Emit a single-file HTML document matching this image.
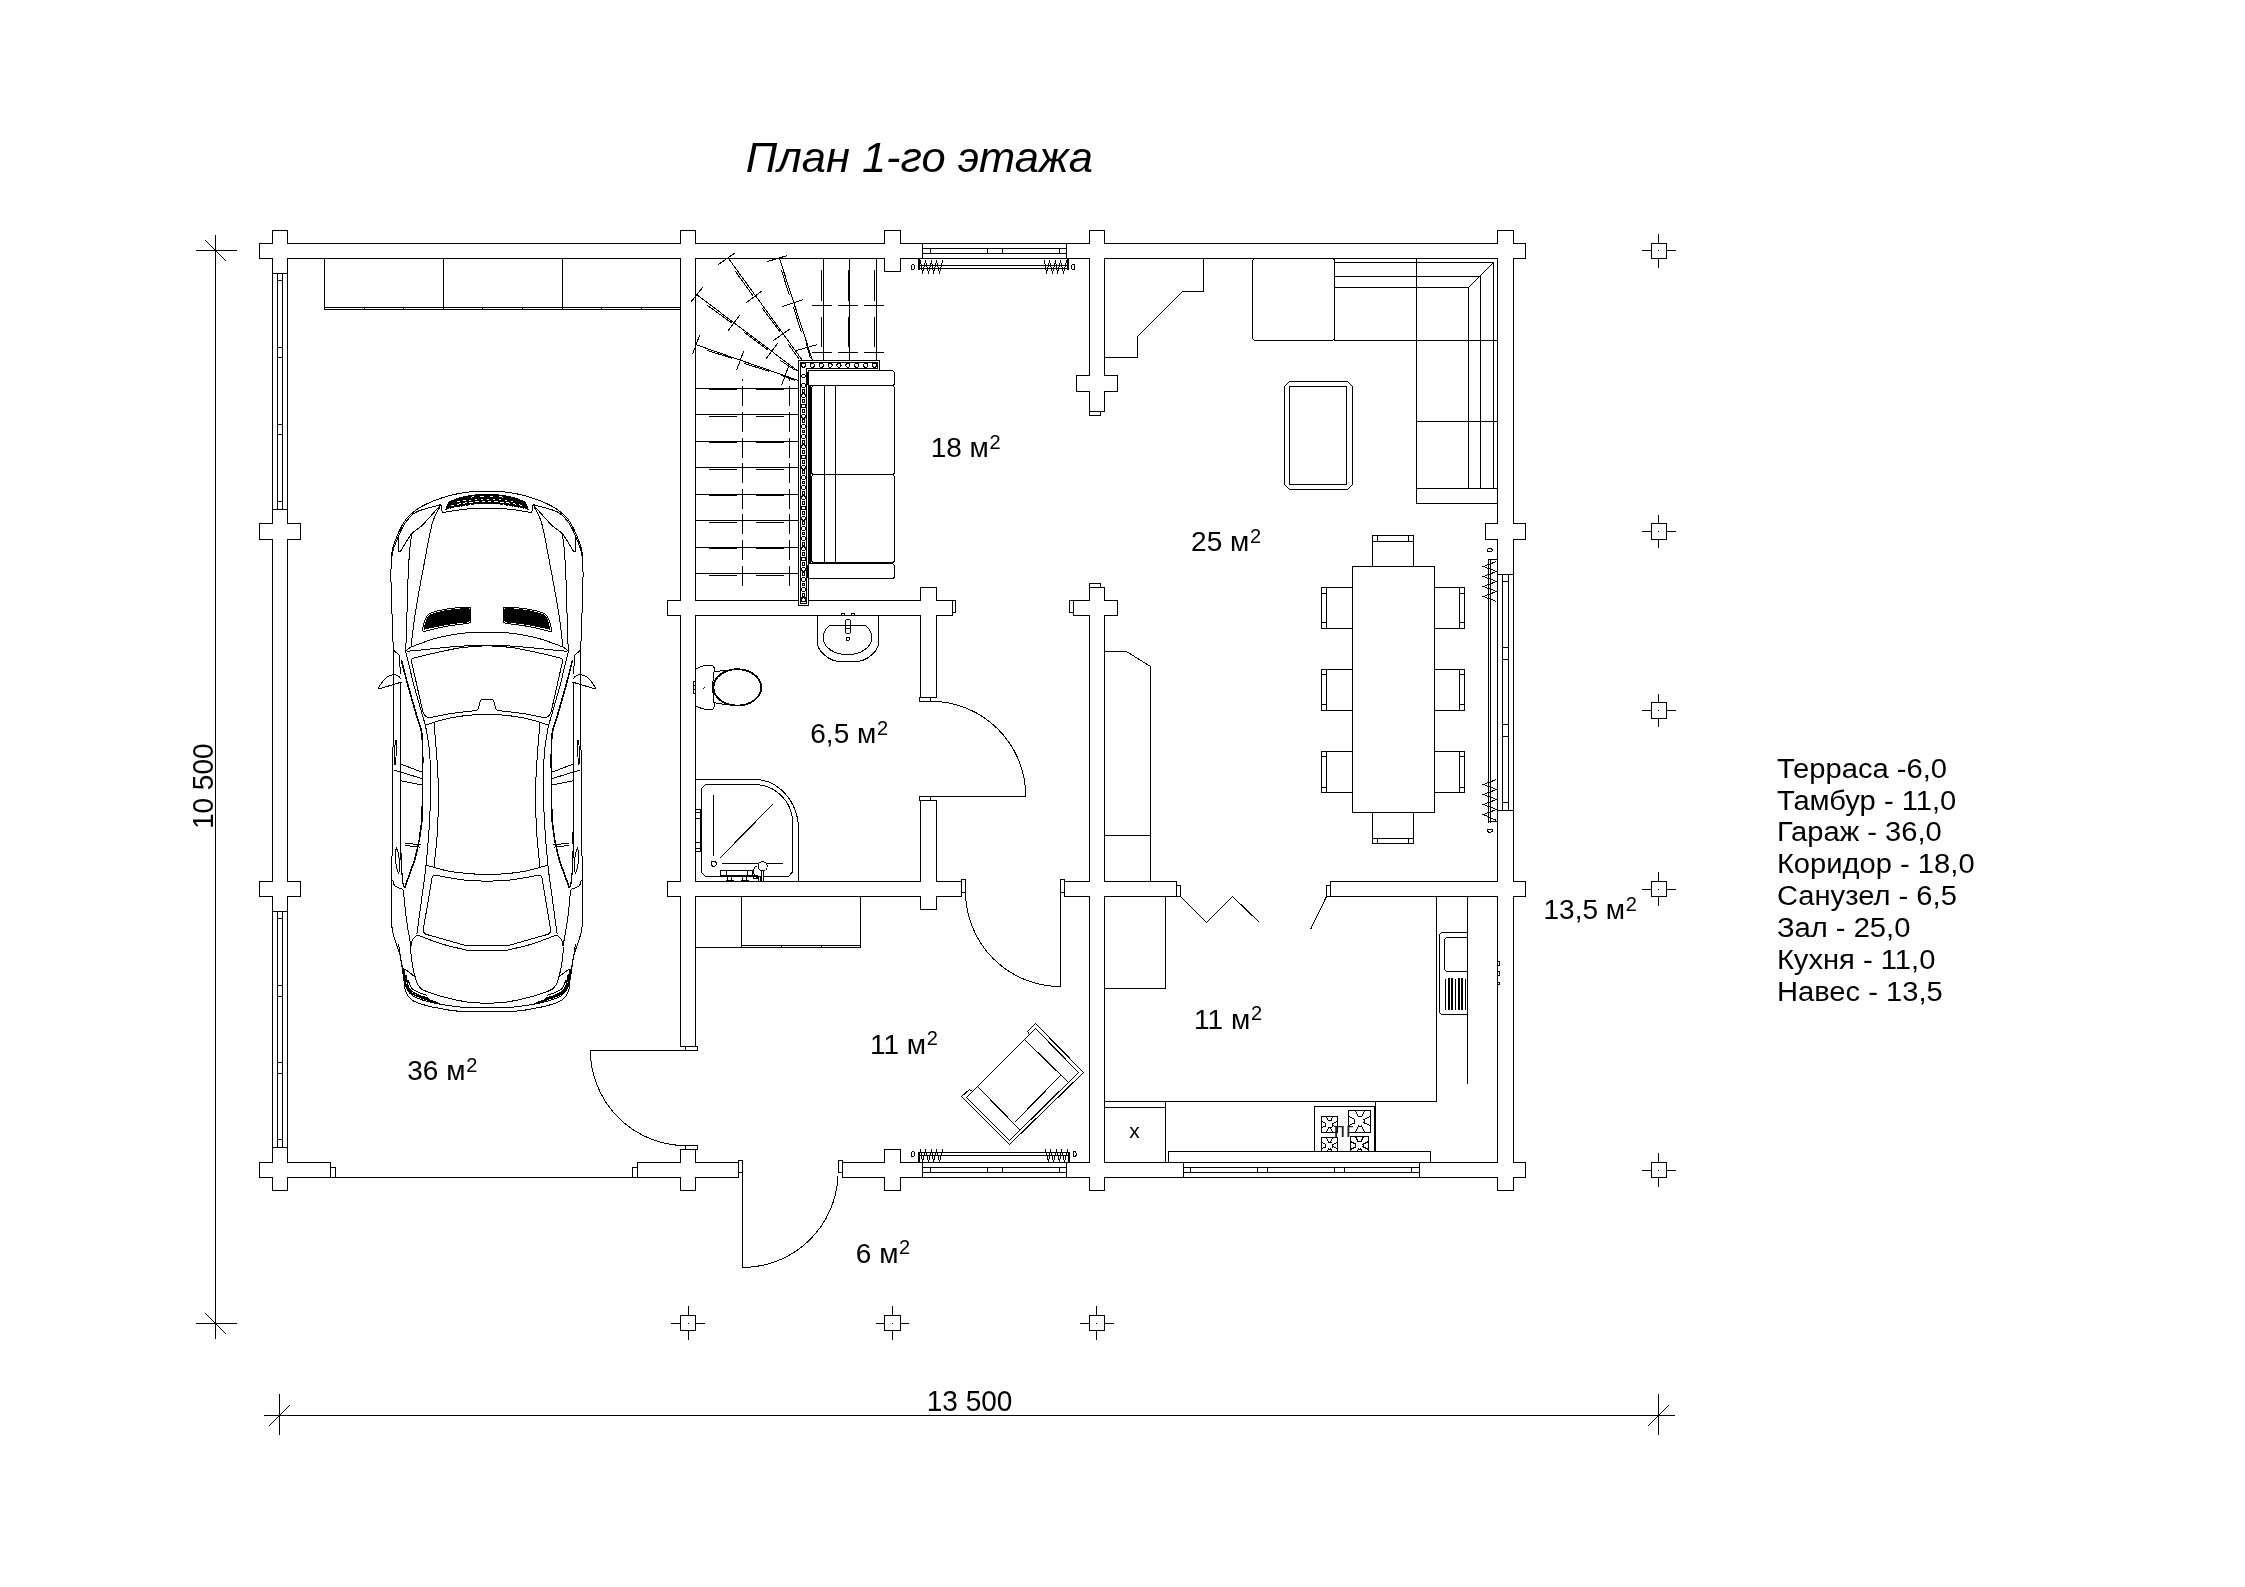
<!DOCTYPE html>
<html><head><meta charset="utf-8"><title>План 1-го этажа</title>
<style>html,body{margin:0;padding:0;background:#fff}svg{display:block;will-change:transform}text{font-family:"Liberation Sans",sans-serif}</style>
</head><body>
<svg width="2245" height="1587" viewBox="0 0 2245 1587" fill="none" stroke="#000" stroke-width="1.0" stroke-linecap="butt" stroke-linejoin="miter" shape-rendering="crispEdges">
<rect x="0" y="0" width="2245" height="1587" fill="#fff" stroke="none"/>
<rect x="259.5" y="243.5" width="1266.0" height="15.0"/>
<rect x="272.5" y="230.5" width="15.0" height="43.0"/>
<rect x="884.5" y="230.5" width="16.0" height="41.0"/>
<rect x="1497.5" y="230.5" width="16.0" height="344.0"/>
<rect x="272.5" y="509.5" width="15.0" height="402.0"/>
<rect x="259.5" y="523.5" width="41.0" height="16.0"/>
<rect x="259.5" y="881.5" width="41.0" height="15.0"/>
<rect x="272.5" y="1147.5" width="15.0" height="43.0"/>
<rect x="259.5" y="1162.5" width="71.0" height="15.0"/>
<rect x="680.5" y="230.5" width="15.0" height="816.0"/>
<rect x="667.5" y="600.5" width="285.0" height="15.0"/>
<rect x="667.5" y="881.5" width="294.0" height="15.0"/>
<rect x="680.5" y="1149.5" width="15.0" height="41.0"/>
<rect x="637.5" y="1162.5" width="101.0" height="15.0"/>
<rect x="920.5" y="587.5" width="16.0" height="110.0"/>
<rect x="920.5" y="800.5" width="16.0" height="109.0"/>
<rect x="1089.5" y="230.5" width="15.0" height="181.0"/>
<rect x="1076.5" y="375.5" width="41.0" height="16.0"/>
<rect x="1089.5" y="587.5" width="15.0" height="603.0"/>
<rect x="1073.5" y="600.5" width="44.0" height="15.0"/>
<rect x="1064.5" y="881.5" width="112.0" height="15.0"/>
<rect x="1485.5" y="523.5" width="40.0" height="16.0"/>
<rect x="1497.5" y="810.5" width="16.0" height="380.0"/>
<rect x="1330.5" y="881.5" width="195.0" height="15.0"/>
<rect x="842.5" y="1162.5" width="683.0" height="15.0"/>
<rect x="884.5" y="1149.5" width="16.0" height="41.0"/>
<rect x="260.00" y="244.00" width="1265.00" height="14.00" fill="#fff" stroke="none"/>
<rect x="273.00" y="231.00" width="14.00" height="42.00" fill="#fff" stroke="none"/>
<rect x="885.00" y="231.00" width="15.00" height="40.00" fill="#fff" stroke="none"/>
<rect x="1498.00" y="231.00" width="15.00" height="343.00" fill="#fff" stroke="none"/>
<rect x="273.00" y="510.00" width="14.00" height="401.00" fill="#fff" stroke="none"/>
<rect x="260.00" y="524.00" width="40.00" height="15.00" fill="#fff" stroke="none"/>
<rect x="260.00" y="882.00" width="40.00" height="14.00" fill="#fff" stroke="none"/>
<rect x="273.00" y="1148.00" width="14.00" height="42.00" fill="#fff" stroke="none"/>
<rect x="260.00" y="1163.00" width="70.00" height="14.00" fill="#fff" stroke="none"/>
<rect x="681.00" y="231.00" width="14.00" height="815.00" fill="#fff" stroke="none"/>
<rect x="668.00" y="601.00" width="284.00" height="14.00" fill="#fff" stroke="none"/>
<rect x="668.00" y="882.00" width="293.00" height="14.00" fill="#fff" stroke="none"/>
<rect x="681.00" y="1150.00" width="14.00" height="40.00" fill="#fff" stroke="none"/>
<rect x="638.00" y="1163.00" width="100.00" height="14.00" fill="#fff" stroke="none"/>
<rect x="921.00" y="588.00" width="15.00" height="109.00" fill="#fff" stroke="none"/>
<rect x="921.00" y="801.00" width="15.00" height="108.00" fill="#fff" stroke="none"/>
<rect x="1090.00" y="231.00" width="14.00" height="180.00" fill="#fff" stroke="none"/>
<rect x="1077.00" y="376.00" width="40.00" height="15.00" fill="#fff" stroke="none"/>
<rect x="1090.00" y="588.00" width="14.00" height="602.00" fill="#fff" stroke="none"/>
<rect x="1074.00" y="601.00" width="43.00" height="14.00" fill="#fff" stroke="none"/>
<rect x="1065.00" y="882.00" width="111.00" height="14.00" fill="#fff" stroke="none"/>
<rect x="1486.00" y="524.00" width="39.00" height="15.00" fill="#fff" stroke="none"/>
<rect x="1498.00" y="811.00" width="15.00" height="379.00" fill="#fff" stroke="none"/>
<rect x="1331.00" y="882.00" width="194.00" height="14.00" fill="#fff" stroke="none"/>
<rect x="843.00" y="1163.00" width="682.00" height="14.00" fill="#fff" stroke="none"/>
<rect x="885.00" y="1150.00" width="15.00" height="40.00" fill="#fff" stroke="none"/>
<rect x="922.5" y="243.5" width="144.0" height="15.0" fill="#fff"/>
<line x1="922.5" y1="248.5" x2="1066.5" y2="248.5"/>
<line x1="922.5" y1="253.5" x2="1066.5" y2="253.5"/>
<line x1="930.5" y1="248.5" x2="930.5" y2="253.5"/>
<line x1="987.5" y1="248.5" x2="987.5" y2="253.5"/>
<line x1="1002.5" y1="248.5" x2="1002.5" y2="253.5"/>
<line x1="1059.5" y1="248.5" x2="1059.5" y2="253.5"/>
<rect x="922.5" y="1162.5" width="144.0" height="15.0" fill="#fff"/>
<line x1="922.5" y1="1167.5" x2="1066.5" y2="1167.5"/>
<line x1="922.5" y1="1172.5" x2="1066.5" y2="1172.5"/>
<line x1="930.5" y1="1167.5" x2="930.5" y2="1172.5"/>
<line x1="987.5" y1="1167.5" x2="987.5" y2="1172.5"/>
<line x1="1002.5" y1="1167.5" x2="1002.5" y2="1172.5"/>
<line x1="1059.5" y1="1167.5" x2="1059.5" y2="1172.5"/>
<rect x="1183.5" y="1162.5" width="236.0" height="15.0" fill="#fff"/>
<line x1="1183.5" y1="1167.5" x2="1419.5" y2="1167.5"/>
<line x1="1183.5" y1="1172.5" x2="1419.5" y2="1172.5"/>
<line x1="1190.5" y1="1167.5" x2="1190.5" y2="1172.5"/>
<line x1="1257.5" y1="1167.5" x2="1257.5" y2="1172.5"/>
<line x1="1267.5" y1="1167.5" x2="1267.5" y2="1172.5"/>
<line x1="1334.5" y1="1167.5" x2="1334.5" y2="1172.5"/>
<line x1="1344.5" y1="1167.5" x2="1344.5" y2="1172.5"/>
<line x1="1411.5" y1="1167.5" x2="1411.5" y2="1172.5"/>
<rect x="272.5" y="273.5" width="15.0" height="236.0" fill="#fff"/>
<line x1="277.5" y1="273.5" x2="277.5" y2="509.5"/>
<line x1="282.5" y1="273.5" x2="282.5" y2="509.5"/>
<line x1="277.5" y1="280.5" x2="282.5" y2="280.5"/>
<line x1="277.5" y1="347.5" x2="282.5" y2="347.5"/>
<line x1="277.5" y1="357.5" x2="282.5" y2="357.5"/>
<line x1="277.5" y1="424.5" x2="282.5" y2="424.5"/>
<line x1="277.5" y1="434.5" x2="282.5" y2="434.5"/>
<line x1="277.5" y1="501.5" x2="282.5" y2="501.5"/>
<rect x="272.5" y="911.5" width="15.0" height="236.0" fill="#fff"/>
<line x1="277.5" y1="911.5" x2="277.5" y2="1147.5"/>
<line x1="282.5" y1="911.5" x2="282.5" y2="1147.5"/>
<line x1="277.5" y1="918.5" x2="282.5" y2="918.5"/>
<line x1="277.5" y1="985.5" x2="282.5" y2="985.5"/>
<line x1="277.5" y1="996.5" x2="282.5" y2="996.5"/>
<line x1="277.5" y1="1062.5" x2="282.5" y2="1062.5"/>
<line x1="277.5" y1="1073.5" x2="282.5" y2="1073.5"/>
<line x1="277.5" y1="1139.5" x2="282.5" y2="1139.5"/>
<rect x="1497.5" y="574.5" width="16.0" height="236.0" fill="#fff"/>
<line x1="1502.5" y1="574.5" x2="1502.5" y2="810.5"/>
<line x1="1508.5" y1="574.5" x2="1508.5" y2="810.5"/>
<line x1="1502.5" y1="581.5" x2="1508.5" y2="581.5"/>
<line x1="1502.5" y1="647.5" x2="1508.5" y2="647.5"/>
<line x1="1502.5" y1="659.5" x2="1508.5" y2="659.5"/>
<line x1="1502.5" y1="724.5" x2="1508.5" y2="724.5"/>
<line x1="1502.5" y1="736.5" x2="1508.5" y2="736.5"/>
<line x1="1502.5" y1="802.5" x2="1508.5" y2="802.5"/>
<rect x="952.5" y="600.5" width="3.0" height="12.0"/>
<rect x="919.5" y="697.5" width="11.0" height="4.0"/>
<rect x="919.5" y="796.5" width="11.0" height="4.0"/>
<rect x="961.5" y="879.5" width="4.0" height="13.0"/>
<rect x="1060.5" y="879.5" width="4.0" height="13.0"/>
<rect x="1176.5" y="885.5" width="4.0" height="11.0"/>
<rect x="1326.5" y="885.5" width="4.0" height="11.0"/>
<rect x="1069.5" y="600.5" width="4.0" height="12.0"/>
<rect x="1089.5" y="583.5" width="11.0" height="4.0"/>
<rect x="1089.5" y="411.5" width="11.0" height="4.0"/>
<rect x="685.5" y="1046.5" width="12.0" height="4.0"/>
<rect x="685.5" y="1145.5" width="12.0" height="4.0"/>
<rect x="330.5" y="1167.5" width="5.0" height="10.0"/>
<rect x="632.5" y="1167.5" width="5.0" height="10.0"/>
<rect x="738.5" y="1160.5" width="4.0" height="12.0"/>
<rect x="838.5" y="1160.5" width="4.0" height="12.0"/>
<line x1="335.5" y1="1177.5" x2="632.5" y2="1177.5"/>
<path d="M930.8,796.6 L1025.8,796.6 A95,95 0 0 0 930.8,701.3"/>
<path d="M1060.5,892 L1060.5,986.5 A95,95 0 0 1 965.5,892"/>
<path d="M685.4,1050.3 L590.4,1050.3 A95.5,95.5 0 0 0 685.4,1145.6"/>
<path d="M742.4,1172 L742.4,1267.5 A95.6,95.6 0 0 0 838,1176"/>
<path d="M1180.5,896.5 L1206.5,922.5 L1232.5,896.5 L1259.5,922.5"/>
<line x1="1326.5" y1="896.5" x2="1310.5" y2="929.5"/>
<rect x="1651.5" y="243.5" width="15" height="15"/>
<path d="M1642,250.5 H1651 M1667,250.5 H1676 M1658.5,234 V243 M1658.5,259 V268"/>
<rect x="1658" y="250" width="1" height="1" fill="#000" stroke="none"/>
<rect x="1651.5" y="523.5" width="15" height="16"/>
<path d="M1642,531.5 H1651 M1667,531.5 H1676 M1658.5,515 V523 M1658.5,540 V548"/>
<rect x="1658" y="531" width="1" height="1" fill="#000" stroke="none"/>
<rect x="1651.5" y="702.5" width="15" height="16"/>
<path d="M1642,710.5 H1651 M1667,710.5 H1676 M1658.5,694 V702 M1658.5,719 V727"/>
<rect x="1658" y="710" width="1" height="1" fill="#000" stroke="none"/>
<rect x="1651.5" y="881.5" width="15" height="15"/>
<path d="M1642,889.5 H1651 M1667,889.5 H1676 M1658.5,872 V881 M1658.5,897 V906"/>
<rect x="1658" y="889" width="1" height="1" fill="#000" stroke="none"/>
<rect x="1651.5" y="1162.5" width="15" height="15"/>
<path d="M1642,1170.5 H1651 M1667,1170.5 H1676 M1658.5,1153 V1162 M1658.5,1178 V1187"/>
<rect x="1658" y="1170" width="1" height="1" fill="#000" stroke="none"/>
<rect x="680.5" y="1315.5" width="15" height="15"/>
<path d="M671,1323.5 H680 M696,1323.5 H705 M688.5,1306 V1315 M688.5,1331 V1340"/>
<rect x="688" y="1323" width="1" height="1" fill="#000" stroke="none"/>
<rect x="884.5" y="1315.5" width="16" height="15"/>
<path d="M876,1323.5 H884 M901,1323.5 H909 M892.5,1306 V1315 M892.5,1331 V1340"/>
<rect x="892" y="1323" width="1" height="1" fill="#000" stroke="none"/>
<rect x="1089.5" y="1315.5" width="15" height="15"/>
<path d="M1080,1323.5 H1089 M1105,1323.5 H1114 M1096.5,1306 V1315 M1096.5,1331 V1340"/>
<rect x="1096" y="1323" width="1" height="1" fill="#000" stroke="none"/>
<path d="M215.5,235 V1339 M196,250.5 H237 M196,1323.5 H237 M264,1415.5 H1675 M279.5,1394 V1435 M1658.5,1394 V1435"/>
<path d="M205,240 L226,261 M205,1313 L226,1334 M269,1426 L290,1405 M1648,1426 L1669,1405"/>
<text x="926.8" y="1410.8" font-size="29.6" text-anchor="start" textLength="85.6" lengthAdjust="spacingAndGlyphs" stroke="none" fill="#000">13 500</text>
<text transform="translate(212.6,829.1) rotate(-90)" font-size="29.6" stroke="none" fill="#000" textLength="85.64" lengthAdjust="spacingAndGlyphs">10 500</text>
<text x="745.8" y="171.5" font-size="43" font-style="italic" stroke="none" fill="#000" textLength="347.1" lengthAdjust="spacingAndGlyphs">План 1-го этажа</text>
<text x="1776.9" y="777.6" font-size="28.4" text-anchor="start" textLength="170.1" lengthAdjust="spacingAndGlyphs" stroke="none" fill="#000">Терраса -6,0</text>
<text x="1776.9" y="809.5" font-size="28.4" text-anchor="start" textLength="179.4" lengthAdjust="spacingAndGlyphs" stroke="none" fill="#000">Тамбур - 11,0</text>
<text x="1776.9" y="841.4" font-size="28.4" text-anchor="start" textLength="164.9" lengthAdjust="spacingAndGlyphs" stroke="none" fill="#000">Гараж - 36,0</text>
<text x="1776.9" y="873.3" font-size="28.4" text-anchor="start" textLength="197.7" lengthAdjust="spacingAndGlyphs" stroke="none" fill="#000">Коридор - 18,0</text>
<text x="1776.9" y="905.2" font-size="28.4" text-anchor="start" textLength="180.0" lengthAdjust="spacingAndGlyphs" stroke="none" fill="#000">Санузел - 6,5</text>
<text x="1776.9" y="937.1" font-size="28.4" text-anchor="start" textLength="133.5" lengthAdjust="spacingAndGlyphs" stroke="none" fill="#000">Зал - 25,0</text>
<text x="1776.9" y="969.0" font-size="28.4" text-anchor="start" textLength="158.5" lengthAdjust="spacingAndGlyphs" stroke="none" fill="#000">Кухня - 11,0</text>
<text x="1776.9" y="1000.9" font-size="28.4" text-anchor="start" textLength="165.8" lengthAdjust="spacingAndGlyphs" stroke="none" fill="#000">Навес - 13,5</text>
<text x="930.7" y="457.0" font-size="28" stroke="none" fill="#000">18 м<tspan font-size="20" dy="-8.3" dx="0.7">2</tspan></text>
<text x="1191.1" y="551.1" font-size="28" stroke="none" fill="#000">25 м<tspan font-size="20" dy="-8.3" dx="0.7">2</tspan></text>
<text x="810.3" y="743.1" font-size="28" stroke="none" fill="#000">6,5 м<tspan font-size="20" dy="-8.3" dx="0.7">2</tspan></text>
<text x="407.3" y="1079.8" font-size="28" stroke="none" fill="#000">36 м<tspan font-size="20" dy="-8.3" dx="0.7">2</tspan></text>
<text x="870.0" y="1053.6" font-size="28" stroke="none" fill="#000">11 м<tspan font-size="20" dy="-8.3" dx="0.7">2</tspan></text>
<text x="1194.1" y="1028.5" font-size="28" stroke="none" fill="#000">11 м<tspan font-size="20" dy="-8.3" dx="0.7">2</tspan></text>
<text x="855.8" y="1262.7" font-size="28" stroke="none" fill="#000">6 м<tspan font-size="20" dy="-8.3" dx="0.7">2</tspan></text>
<text x="1543.5" y="918.9" font-size="28" stroke="none" fill="#000">13,5 м<tspan font-size="20" dy="-8.3" dx="0.7">2</tspan></text>
<rect x="324.5" y="258.5" width="356.0" height="51.0"/>
<line x1="324.5" y1="307.5" x2="680.5" y2="307.5"/>
<line x1="443.5" y1="258.5" x2="443.5" y2="309.5"/>
<line x1="562.5" y1="258.5" x2="562.5" y2="309.5"/>
<line x1="364.5" y1="307.5" x2="364.5" y2="309.5"/>
<line x1="403.5" y1="307.5" x2="403.5" y2="309.5"/>
<line x1="482.5" y1="307.5" x2="482.5" y2="309.5"/>
<line x1="522.5" y1="307.5" x2="522.5" y2="309.5"/>
<line x1="601.5" y1="307.5" x2="601.5" y2="309.5"/>
<line x1="641.5" y1="307.5" x2="641.5" y2="309.5"/>
<line x1="741.5" y1="896.5" x2="741.5" y2="947.5"/>
<line x1="860.5" y1="896.5" x2="860.5" y2="947.5"/>
<line x1="695.5" y1="947.5" x2="860.5" y2="947.5"/>
<line x1="741.5" y1="945.5" x2="860.5" y2="945.5"/>
<line x1="781.5" y1="945.5" x2="781.5" y2="947.5"/>
<line x1="821.5" y1="945.5" x2="821.5" y2="947.5"/>
<line x1="695.5" y1="388.5" x2="798.5" y2="388.5"/>
<line x1="708.5" y1="389.5" x2="736.5" y2="389.5"/>
<line x1="755.5" y1="389.5" x2="783.5" y2="389.5"/>
<line x1="695.5" y1="414.5" x2="798.5" y2="414.5"/>
<line x1="708.5" y1="416.5" x2="736.5" y2="416.5"/>
<line x1="755.5" y1="416.5" x2="783.5" y2="416.5"/>
<line x1="695.5" y1="441.5" x2="798.5" y2="441.5"/>
<line x1="708.5" y1="442.5" x2="736.5" y2="442.5"/>
<line x1="755.5" y1="442.5" x2="783.5" y2="442.5"/>
<line x1="695.5" y1="467.5" x2="798.5" y2="467.5"/>
<line x1="708.5" y1="469.5" x2="736.5" y2="469.5"/>
<line x1="755.5" y1="469.5" x2="783.5" y2="469.5"/>
<line x1="695.5" y1="494.5" x2="798.5" y2="494.5"/>
<line x1="708.5" y1="495.5" x2="736.5" y2="495.5"/>
<line x1="755.5" y1="495.5" x2="783.5" y2="495.5"/>
<line x1="695.5" y1="520.5" x2="798.5" y2="520.5"/>
<line x1="708.5" y1="522.5" x2="736.5" y2="522.5"/>
<line x1="755.5" y1="522.5" x2="783.5" y2="522.5"/>
<line x1="695.5" y1="547.5" x2="798.5" y2="547.5"/>
<line x1="708.5" y1="548.5" x2="736.5" y2="548.5"/>
<line x1="755.5" y1="548.5" x2="783.5" y2="548.5"/>
<line x1="695.5" y1="573.5" x2="798.5" y2="573.5"/>
<line x1="708.5" y1="575.5" x2="736.5" y2="575.5"/>
<line x1="755.5" y1="575.5" x2="783.5" y2="575.5"/>
<path d="M742.5,585.5 V379 M789.5,585.5 V379" stroke-dasharray="20 5.6"/>
<line x1="695.5" y1="344.5" x2="798.5" y2="380.5"/>
<line x1="707.5" y1="350.5" x2="732.5" y2="358.5" stroke-width="1"/>
<line x1="744.5" y1="363.5" x2="769.5" y2="371.5" stroke-width="1"/>
<line x1="781.5" y1="375.5" x2="795.5" y2="380.5" stroke-width="1"/>
<line x1="696.5" y1="294.5" x2="798.5" y2="371.5"/>
<line x1="707.5" y1="305.5" x2="732.5" y2="323.5" stroke-width="1"/>
<line x1="744.5" y1="332.5" x2="768.5" y2="350.5" stroke-width="1"/>
<line x1="780.5" y1="360.5" x2="795.5" y2="370.5" stroke-width="1"/>
<line x1="728.5" y1="258.5" x2="802.5" y2="360.5"/>
<line x1="735.5" y1="271.5" x2="753.5" y2="296.5" stroke-width="1"/>
<line x1="762.5" y1="308.5" x2="780.5" y2="332.5" stroke-width="1"/>
<line x1="788.5" y1="344.5" x2="799.5" y2="359.5" stroke-width="1"/>
<line x1="779.5" y1="258.5" x2="812.5" y2="360.5"/>
<line x1="781.5" y1="270.5" x2="789.5" y2="295.5" stroke-width="1"/>
<line x1="793.5" y1="307.5" x2="801.5" y2="332.5" stroke-width="1"/>
<line x1="806.5" y1="344.5" x2="810.5" y2="358.5" stroke-width="1"/>
<line x1="692.5" y1="354.5" x2="699.5" y2="335.5" stroke-width="1"/>
<line x1="736.5" y1="370.5" x2="743.5" y2="351.5" stroke-width="1"/>
<line x1="781.5" y1="385.5" x2="788.5" y2="366.5" stroke-width="1"/>
<line x1="690.5" y1="302.5" x2="702.5" y2="287.5" stroke-width="1"/>
<line x1="727.5" y1="331.5" x2="739.5" y2="315.5" stroke-width="1"/>
<line x1="765.5" y1="359.5" x2="777.5" y2="343.5" stroke-width="1"/>
<line x1="718.5" y1="264.5" x2="735.5" y2="252.5" stroke-width="1"/>
<line x1="746.5" y1="302.5" x2="762.5" y2="290.5" stroke-width="1"/>
<line x1="773.5" y1="340.5" x2="790.5" y2="328.5" stroke-width="1"/>
<line x1="767.5" y1="261.5" x2="787.5" y2="255.5" stroke-width="1"/>
<line x1="782.5" y1="306.5" x2="803.5" y2="299.5" stroke-width="1"/>
<line x1="796.5" y1="350.5" x2="817.5" y2="344.5" stroke-width="1"/>
<line x1="823.5" y1="258.5" x2="823.5" y2="360.5"/>
<line x1="849.5" y1="258.5" x2="849.5" y2="360.5"/>
<line x1="876.5" y1="258.5" x2="876.5" y2="360.5"/>
<path d="M811.5,305.5 H884.7 M811.5,352.4 H884.7" stroke-dasharray="20.5 5.5"/>
<line x1="821.5" y1="269.5" x2="821.5" y2="300.5"/>
<line x1="821.5" y1="316.5" x2="821.5" y2="346.5"/>
<line x1="848.5" y1="269.5" x2="848.5" y2="300.5"/>
<line x1="848.5" y1="316.5" x2="848.5" y2="346.5"/>
<line x1="874.5" y1="269.5" x2="874.5" y2="300.5"/>
<line x1="874.5" y1="316.5" x2="874.5" y2="346.5"/>
<path d="M798.5,360.5 L879.5,360.5 L879.5,370.5 L808.5,370.5 L808.5,605.5 L798.5,605.5 Z" fill="#fff"/>
<path d="M800.5,362.5 L877.5,362.5 L877.5,368.5 L806.5,368.5 L806.5,603.5 L800.5,603.5 Z"/>
<circle cx="803.4" cy="365.2" r="2.1" stroke-width="1"/>
<circle cx="812.3" cy="365.2" r="2.1" stroke-width="1"/>
<circle cx="821.2" cy="365.2" r="2.1" stroke-width="1"/>
<circle cx="830.1" cy="365.2" r="2.1" stroke-width="1"/>
<circle cx="839.0" cy="365.2" r="2.1" stroke-width="1"/>
<circle cx="847.9" cy="365.2" r="2.1" stroke-width="1"/>
<circle cx="856.8" cy="365.2" r="2.1" stroke-width="1"/>
<circle cx="865.7" cy="365.2" r="2.1" stroke-width="1"/>
<circle cx="874.6" cy="365.2" r="2.1" stroke-width="1"/>
<circle cx="803.5" cy="385.6" r="2.0" stroke-width="1"/>
<rect x="802.5" y="389.5" width="2.0" height="3.0" stroke-width="1"/>
<circle cx="803.5" cy="395.8" r="2.0" stroke-width="1"/>
<rect x="802.5" y="399.5" width="2.0" height="3.0" stroke-width="1"/>
<circle cx="803.5" cy="406.0" r="2.0" stroke-width="1"/>
<rect x="802.5" y="409.5" width="2.0" height="3.0" stroke-width="1"/>
<circle cx="803.5" cy="416.2" r="2.0" stroke-width="1"/>
<rect x="802.5" y="419.5" width="2.0" height="3.0" stroke-width="1"/>
<circle cx="803.5" cy="426.4" r="2.0" stroke-width="1"/>
<rect x="802.5" y="430.5" width="2.0" height="2.0" stroke-width="1"/>
<circle cx="803.5" cy="436.6" r="2.0" stroke-width="1"/>
<rect x="802.5" y="440.5" width="2.0" height="3.0" stroke-width="1"/>
<circle cx="803.5" cy="446.8" r="2.0" stroke-width="1"/>
<rect x="802.5" y="450.5" width="2.0" height="3.0" stroke-width="1"/>
<circle cx="803.5" cy="457.0" r="2.0" stroke-width="1"/>
<rect x="802.5" y="460.5" width="2.0" height="3.0" stroke-width="1"/>
<circle cx="803.5" cy="467.2" r="2.0" stroke-width="1"/>
<rect x="802.5" y="470.5" width="2.0" height="3.0" stroke-width="1"/>
<circle cx="803.5" cy="477.4" r="2.0" stroke-width="1"/>
<rect x="802.5" y="481.5" width="2.0" height="2.0" stroke-width="1"/>
<circle cx="803.5" cy="487.6" r="2.0" stroke-width="1"/>
<rect x="802.5" y="491.5" width="2.0" height="3.0" stroke-width="1"/>
<circle cx="803.5" cy="497.8" r="2.0" stroke-width="1"/>
<rect x="802.5" y="501.5" width="2.0" height="3.0" stroke-width="1"/>
<circle cx="803.5" cy="508.0" r="2.0" stroke-width="1"/>
<rect x="802.5" y="511.5" width="2.0" height="3.0" stroke-width="1"/>
<circle cx="803.5" cy="518.2" r="2.0" stroke-width="1"/>
<rect x="802.5" y="521.5" width="2.0" height="3.0" stroke-width="1"/>
<circle cx="803.5" cy="528.4" r="2.0" stroke-width="1"/>
<rect x="802.5" y="532.5" width="2.0" height="2.0" stroke-width="1"/>
<circle cx="803.5" cy="538.6" r="2.0" stroke-width="1"/>
<rect x="802.5" y="542.5" width="2.0" height="3.0" stroke-width="1"/>
<circle cx="803.5" cy="548.8" r="2.0" stroke-width="1"/>
<rect x="802.5" y="552.5" width="2.0" height="3.0" stroke-width="1"/>
<circle cx="803.5" cy="559.0" r="2.0" stroke-width="1"/>
<rect x="802.5" y="562.5" width="2.0" height="3.0" stroke-width="1"/>
<circle cx="803.5" cy="569.2" r="2.0" stroke-width="1"/>
<rect x="802.5" y="572.5" width="2.0" height="3.0" stroke-width="1"/>
<circle cx="803.5" cy="579.4" r="2.0" stroke-width="1"/>
<rect x="802.5" y="583.5" width="2.0" height="2.0" stroke-width="1"/>
<circle cx="803.5" cy="589.6" r="2.0" stroke-width="1"/>
<rect x="802.5" y="593.5" width="2.0" height="3.0" stroke-width="1"/>
<circle cx="803.5" cy="599.8" r="2.0" stroke-width="1"/>
<circle cx="803.5" cy="376.0" r="1.8" stroke-width="1"/>
<circle cx="803.5" cy="599.3" r="2.6" stroke-width="1"/>
<rect x="807.5" y="370.5" width="87.0" height="15.0" rx="3"/>
<rect x="807.5" y="563.5" width="87.0" height="15.0" rx="3"/>
<line x1="809.5" y1="385.5" x2="809.5" y2="563.5" stroke-width="2"/>
<rect x="811.5" y="385.5" width="83.0" height="89.0" rx="3"/>
<rect x="811.5" y="474.5" width="83.0" height="88.0" rx="3"/>
<line x1="824.5" y1="385.5" x2="824.5" y2="562.5"/>
<line x1="835.5" y1="385.5" x2="835.5" y2="562.5"/>
<path d="M1104.5,357.5 L1137.5,357.5 L1137.5,336.5 L1182.5,291.5 L1203.5,291.5 L1203.5,258.5"/>
<rect x="1252.5" y="258.5" width="82.0" height="82.0" rx="3.5"/>
<path d="M1334.5,340.5 L1334.5,258.5 L1497.5,258.5"/>
<line x1="1334.5" y1="262.5" x2="1493.5" y2="262.5"/>
<line x1="1334.5" y1="276.5" x2="1480.5" y2="276.5"/>
<rect x="1334.5" y="287.5" width="82.0" height="53.0" rx="2"/>
<path d="M1416.5,340.5 L1416.5,287.5 L1468.5,287.5 L1468.5,340.5"/>
<line x1="1416.5" y1="258.5" x2="1416.5" y2="287.5"/>
<line x1="1334.5" y1="287.5" x2="1468.5" y2="287.5"/>
<line x1="1468.5" y1="287.5" x2="1493.5" y2="262.5"/>
<line x1="1468.5" y1="287.5" x2="1468.5" y2="488.5"/>
<line x1="1480.5" y1="276.5" x2="1480.5" y2="488.5"/>
<line x1="1493.5" y1="262.5" x2="1493.5" y2="488.5"/>
<line x1="1416.5" y1="340.5" x2="1497.5" y2="340.5"/>
<line x1="1416.5" y1="421.5" x2="1497.5" y2="421.5"/>
<rect x="1416.5" y="340.5" width="52.0" height="81.0" rx="2"/>
<rect x="1416.5" y="421.5" width="52.0" height="67.0" rx="2"/>
<rect x="1416.5" y="488.5" width="81.0" height="15.0"/>
<line x1="1416.5" y1="340.5" x2="1416.5" y2="488.5"/>
<path d="M1289.5,381.5 L1347.5,381.5 L1352.5,386.5 L1352.5,484.5 L1347.5,489.5 L1289.5,489.5 L1284.5,484.5 L1284.5,386.5 Z"/>
<rect x="1289.5" y="386.5" width="57.0" height="98.0"/>
<rect x="1352.5" y="566.5" width="82.0" height="246.0"/>
<rect x="1321.5" y="587.5" width="31.0" height="41.0"/>
<line x1="1326.5" y1="587.5" x2="1326.5" y2="628.5"/>
<line x1="1321.5" y1="593.5" x2="1326.5" y2="593.5"/>
<line x1="1321.5" y1="622.5" x2="1326.5" y2="622.5"/>
<rect x="1434.5" y="587.5" width="30.0" height="41.0"/>
<line x1="1459.5" y1="587.5" x2="1459.5" y2="628.5"/>
<line x1="1459.5" y1="593.5" x2="1464.5" y2="593.5"/>
<line x1="1459.5" y1="622.5" x2="1464.5" y2="622.5"/>
<rect x="1321.5" y="669.5" width="31.0" height="41.0"/>
<line x1="1326.5" y1="669.5" x2="1326.5" y2="710.5"/>
<line x1="1321.5" y1="674.5" x2="1326.5" y2="674.5"/>
<line x1="1321.5" y1="704.5" x2="1326.5" y2="704.5"/>
<rect x="1434.5" y="669.5" width="30.0" height="41.0"/>
<line x1="1459.5" y1="669.5" x2="1459.5" y2="710.5"/>
<line x1="1459.5" y1="674.5" x2="1464.5" y2="674.5"/>
<line x1="1459.5" y1="704.5" x2="1464.5" y2="704.5"/>
<rect x="1321.5" y="751.5" width="31.0" height="41.0"/>
<line x1="1326.5" y1="751.5" x2="1326.5" y2="792.5"/>
<line x1="1321.5" y1="756.5" x2="1326.5" y2="756.5"/>
<line x1="1321.5" y1="787.5" x2="1326.5" y2="787.5"/>
<rect x="1434.5" y="751.5" width="30.0" height="41.0"/>
<line x1="1459.5" y1="751.5" x2="1459.5" y2="792.5"/>
<line x1="1459.5" y1="756.5" x2="1464.5" y2="756.5"/>
<line x1="1459.5" y1="787.5" x2="1464.5" y2="787.5"/>
<rect x="1372.5" y="535.5" width="41.0" height="31.0"/>
<line x1="1372.5" y1="541.5" x2="1413.5" y2="541.5"/>
<line x1="1377.5" y1="535.5" x2="1377.5" y2="541.5"/>
<line x1="1408.5" y1="535.5" x2="1408.5" y2="541.5"/>
<rect x="1372.5" y="812.5" width="41.0" height="31.0"/>
<line x1="1372.5" y1="838.5" x2="1413.5" y2="838.5"/>
<line x1="1377.5" y1="838.5" x2="1377.5" y2="843.5"/>
<line x1="1408.5" y1="838.5" x2="1408.5" y2="843.5"/>
<path d="M1104.5,651.5 L1126.5,651.5 L1150.5,666.5 L1150.5,881.5"/>
<line x1="1104.5" y1="835.5" x2="1150.5" y2="835.5" stroke-width="1"/>
<line x1="1165.5" y1="896.5" x2="1165.5" y2="988.5"/>
<line x1="1104.5" y1="988.5" x2="1165.5" y2="988.5"/>
<line x1="1436.5" y1="896.5" x2="1436.5" y2="1101.5"/>
<line x1="1104.5" y1="1101.5" x2="1436.5" y2="1101.5"/>
<line x1="1467.5" y1="896.5" x2="1467.5" y2="1083.5"/>
<line x1="1165.5" y1="1101.5" x2="1165.5" y2="1162.5"/>
<line x1="1104.5" y1="1107.5" x2="1165.5" y2="1107.5"/>
<text x="1134.6" y="1137.6" font-size="21" text-anchor="middle" stroke="none" fill="#000">x</text>
<path d="M1168.5,1162.5 L1168.5,1151.5 L1430.5,1151.5 L1430.5,1162.5"/>
<rect x="1314.5" y="1106.5" width="60.0" height="45.0"/>
<line x1="1375.5" y1="1101.5" x2="1375.5" y2="1151.5" stroke-width="1.4"/>
<rect x="1321.5" y="1116.5" width="16.0" height="16.0"/>
<line x1="1332.5" y1="1125.5" x2="1337.5" y2="1127.5" stroke-width="1"/>
<line x1="1330.5" y1="1127.5" x2="1332.5" y2="1132.5" stroke-width="1"/>
<line x1="1328.5" y1="1127.5" x2="1326.5" y2="1132.5" stroke-width="1"/>
<line x1="1326.5" y1="1125.5" x2="1321.5" y2="1127.5" stroke-width="1"/>
<line x1="1326.5" y1="1123.5" x2="1321.5" y2="1121.5" stroke-width="1"/>
<line x1="1328.5" y1="1121.5" x2="1326.5" y2="1116.5" stroke-width="1"/>
<line x1="1330.5" y1="1121.5" x2="1332.5" y2="1116.5" stroke-width="1"/>
<line x1="1332.5" y1="1123.5" x2="1337.5" y2="1121.5" stroke-width="1"/>
<line x1="1332.5" y1="1126.5" x2="1332.5" y2="1122.5" stroke-width="1"/>
<line x1="1327.5" y1="1127.5" x2="1331.5" y2="1127.5" stroke-width="1"/>
<line x1="1325.5" y1="1122.5" x2="1325.5" y2="1126.5" stroke-width="1"/>
<line x1="1331.5" y1="1120.5" x2="1327.5" y2="1120.5" stroke-width="1"/>
<rect x="1348.5" y="1110.5" width="22.0" height="22.0"/>
<line x1="1363.5" y1="1122.5" x2="1370.5" y2="1125.5" stroke-width="1"/>
<line x1="1361.5" y1="1125.5" x2="1364.5" y2="1132.5" stroke-width="1"/>
<line x1="1358.5" y1="1125.5" x2="1355.5" y2="1132.5" stroke-width="1"/>
<line x1="1355.5" y1="1122.5" x2="1348.5" y2="1125.5" stroke-width="1"/>
<line x1="1355.5" y1="1119.5" x2="1348.5" y2="1116.5" stroke-width="1"/>
<line x1="1358.5" y1="1117.5" x2="1355.5" y2="1110.5" stroke-width="1"/>
<line x1="1361.5" y1="1117.5" x2="1364.5" y2="1110.5" stroke-width="1"/>
<line x1="1363.5" y1="1119.5" x2="1370.5" y2="1116.5" stroke-width="1"/>
<line x1="1364.5" y1="1123.5" x2="1364.5" y2="1119.5" stroke-width="1"/>
<line x1="1357.5" y1="1126.5" x2="1361.5" y2="1126.5" stroke-width="1"/>
<line x1="1354.5" y1="1119.5" x2="1354.5" y2="1123.5" stroke-width="1"/>
<line x1="1361.5" y1="1116.5" x2="1357.5" y2="1116.5" stroke-width="1"/>
<rect x="1321.5" y="1137.5" width="16.0" height="14.0"/>
<line x1="1332.5" y1="1146.5" x2="1337.5" y2="1148.5" stroke-width="1"/>
<line x1="1330.5" y1="1148.5" x2="1331.5" y2="1151.5" stroke-width="1"/>
<line x1="1328.5" y1="1148.5" x2="1327.5" y2="1151.5" stroke-width="1"/>
<line x1="1326.5" y1="1146.5" x2="1321.5" y2="1148.5" stroke-width="1"/>
<line x1="1326.5" y1="1144.5" x2="1321.5" y2="1142.5" stroke-width="1"/>
<line x1="1328.5" y1="1142.5" x2="1326.5" y2="1137.5" stroke-width="1"/>
<line x1="1330.5" y1="1142.5" x2="1332.5" y2="1137.5" stroke-width="1"/>
<line x1="1332.5" y1="1144.5" x2="1337.5" y2="1142.5" stroke-width="1"/>
<line x1="1332.5" y1="1147.5" x2="1332.5" y2="1143.5" stroke-width="1"/>
<line x1="1327.5" y1="1149.5" x2="1331.5" y2="1149.5" stroke-width="1"/>
<line x1="1325.5" y1="1143.5" x2="1325.5" y2="1147.5" stroke-width="1"/>
<line x1="1331.5" y1="1142.5" x2="1327.5" y2="1142.5" stroke-width="1"/>
<rect x="1350.5" y="1136.5" width="18.0" height="15.0"/>
<line x1="1362.5" y1="1146.5" x2="1368.5" y2="1149.5" stroke-width="1"/>
<line x1="1360.5" y1="1148.5" x2="1361.5" y2="1151.5" stroke-width="1"/>
<line x1="1358.5" y1="1148.5" x2="1357.5" y2="1151.5" stroke-width="1"/>
<line x1="1356.5" y1="1146.5" x2="1350.5" y2="1149.5" stroke-width="1"/>
<line x1="1356.5" y1="1144.5" x2="1350.5" y2="1141.5" stroke-width="1"/>
<line x1="1358.5" y1="1142.5" x2="1355.5" y2="1136.5" stroke-width="1"/>
<line x1="1360.5" y1="1142.5" x2="1363.5" y2="1136.5" stroke-width="1"/>
<line x1="1362.5" y1="1144.5" x2="1368.5" y2="1141.5" stroke-width="1"/>
<line x1="1363.5" y1="1147.5" x2="1363.5" y2="1143.5" stroke-width="1"/>
<line x1="1357.5" y1="1149.5" x2="1361.5" y2="1149.5" stroke-width="1"/>
<line x1="1355.5" y1="1143.5" x2="1355.5" y2="1147.5" stroke-width="1"/>
<line x1="1361.5" y1="1141.5" x2="1357.5" y2="1141.5" stroke-width="1"/>
<text x="1333.7" y="1136.6" font-size="21" stroke="none" fill="#222" textLength="19.9" lengthAdjust="spacing">пг</text>
<path d="M1467,932.5 H1441.5 L1439.5,934.5 V1012.8 L1441.5,1014.5 H1467"/>
<path d="M1467,937.5 H1446.5 L1444.5,939.5 V969.5 L1446.5,971.5 H1467"/>
<line x1="1445.5" y1="978.5" x2="1445.5" y2="1009.5"/>
<rect x="1448" y="978" width="2" height="32" fill="#000" stroke="none"/>
<rect x="1451" y="978" width="2" height="32" fill="#000" stroke="none"/>
<line x1="1455.5" y1="978.5" x2="1455.5" y2="1009.5"/>
<rect x="1458" y="978" width="2" height="32" fill="#000" stroke="none"/>
<rect x="1461" y="978" width="2" height="32" fill="#000" stroke="none"/>
<line x1="1465.5" y1="978.5" x2="1465.5" y2="1009.5"/>
<rect x="1497.5" y="961.5" width="2.0" height="4.0"/>
<rect x="1497.5" y="971.5" width="2.0" height="4.0"/>
<rect x="1497.5" y="982.5" width="2.0" height="2.0"/>
<path d="M817.2,615.4 V641.3 C817.2,652 830,661.7 841,661.7 H855 C866,661.7 878.8,652 878.8,641.3 V615.4"/>
<path d="M833,625.2 H862 C868,625.2 871.7,631 871.7,638 C871.7,648 860,654.6 847.5,654.6 C835,654.6 823.3,648 823.3,638 C823.3,631 827,625.2 833,625.2 Z"/>
<rect x="845.5" y="619.5" width="5.0" height="14.0" rx="2.2" fill="#fff"/>
<line x1="845.5" y1="625.5" x2="850.5" y2="625.5" stroke-width="1"/>
<line x1="845.5" y1="628.5" x2="850.5" y2="628.5" stroke-width="1"/>
<circle cx="847.9" cy="638.8" r="1.7" stroke-width="1"/>
<rect x="841.5" y="613.5" width="3.0" height="2.0" stroke-width="1"/>
<rect x="851.5" y="613.5" width="3.0" height="2.0" stroke-width="1"/>
<path d="M695.6,669 C700,667 704,665.2 708,665 H711 C713.5,665.5 714.5,668 714.3,670 C712.5,680 712.5,694.5 714.3,704.8 C714.5,707 713.5,709.3 711,709.8 H708 C704,709.6 700,708 695.6,706"/>
<ellipse cx="737.3" cy="687.4" rx="23.9" ry="18.2" stroke-width="1.8"/>
<path d="M714.3,672 Q722,670.5 728,670.3 M714.3,702.8 Q722,704.3 728,704.5" stroke-width="1"/>
<rect x="693.5" y="681.5" width="2.0" height="12.0" stroke-width="1"/>
<line x1="693.5" y1="685.5" x2="695.5" y2="685.5" stroke-width="1"/>
<line x1="693.5" y1="689.5" x2="695.5" y2="689.5" stroke-width="1"/>
<line x1="702.5" y1="689.5" x2="704.5" y2="687.5" stroke-width="1"/>
<path d="M695.6,779.4 H754.2 A44.3,50.3 0 0 1 798.5,829.7 V881.2"/>
<path d="M705.5,784.4 H753.5 A39.1,37.8 0 0 1 792.6,822.2 V872 L788.3,876.6 H705.5 L701.3,872.4 V788.6 Z"/>
<line x1="713.5" y1="794.5" x2="713.5" y2="855.5"/>
<line x1="719.5" y1="858.5" x2="772.5" y2="804.5"/>
<line x1="721.5" y1="863.5" x2="782.5" y2="863.5"/>
<circle cx="713.8" cy="863.7" r="2.6" stroke-width="1"/>
<rect x="720.5" y="870.5" width="32.0" height="5.0"/>
<line x1="726.5" y1="870.5" x2="726.5" y2="875.5"/>
<line x1="747.5" y1="870.5" x2="747.5" y2="875.5"/>
<rect x="727.5" y="876.5" width="4.0" height="4.0" stroke-width="1"/>
<rect x="742.5" y="876.5" width="4.0" height="4.0" stroke-width="1"/>
<line x1="725.5" y1="880.5" x2="733.5" y2="880.5" stroke-width="1.2"/>
<line x1="740.5" y1="880.5" x2="748.5" y2="880.5" stroke-width="1.2"/>
<circle cx="762.6" cy="866.4" r="4.6" stroke-width="1" fill="#fff"/>
<path d="M756.5,866 C752.5,868 752.8,876 757.5,878" stroke-width="1"/>
<rect x="761.5" y="870.5" width="2.0" height="11.0" stroke-width="1" fill="#fff"/>
<rect x="758.5" y="876.5" width="2.0" height="5.0" stroke-width="1"/>
<rect x="753.5" y="875.5" width="4.0" height="3.0" stroke-width="1"/>
<rect x="695.5" y="809.5" width="6.0" height="42.0" stroke-width="1"/>
<line x1="695.5" y1="812.5" x2="701.5" y2="812.5" stroke-width="1"/>
<line x1="695.5" y1="818.5" x2="701.5" y2="818.5" stroke-width="1"/>
<line x1="695.5" y1="842.5" x2="701.5" y2="842.5" stroke-width="1"/>
<line x1="695.5" y1="848.5" x2="701.5" y2="848.5" stroke-width="1"/>
<line x1="700.5" y1="809.5" x2="700.5" y2="851.5" stroke-width="1.4"/>
<line x1="918.5" y1="265.5" x2="1068.5" y2="265.5"/>
<line x1="918.5" y1="268.5" x2="1068.5" y2="268.5"/>
<line x1="918.5" y1="258.5" x2="918.5" y2="269.5" stroke-width="2"/>
<line x1="1067.5" y1="258.5" x2="1067.5" y2="269.5" stroke-width="2"/>
<path d="M920.5,260.5 L922.5,273.5 L925.5,260.5 L928.5,273.5 L931.5,260.5 L933.5,273.5 L936.5,260.5 L939.5,273.5 L942.5,260.5" stroke-width="1"/>
<path d="M1044.5,260.5 L1046.5,273.5 L1049.5,260.5 L1052.5,273.5 L1055.5,260.5 L1057.5,273.5 L1060.5,260.5 L1063.5,273.5 L1066.5,260.5" stroke-width="1"/>
<ellipse cx="912.9" cy="267.1" rx="1.6" ry="2.7" stroke-width="1"/>
<ellipse cx="1073.3" cy="267.1" rx="1.6" ry="2.7" stroke-width="1"/>
<line x1="918.5" y1="1152.5" x2="1069.5" y2="1152.5"/>
<line x1="918.5" y1="1155.5" x2="1069.5" y2="1155.5"/>
<line x1="918.5" y1="1151.5" x2="918.5" y2="1162.5" stroke-width="2"/>
<line x1="1068.5" y1="1151.5" x2="1068.5" y2="1162.5" stroke-width="2"/>
<path d="M920.5,1149.5 L922.5,1162.5 L925.5,1149.5 L928.5,1162.5 L931.5,1149.5 L933.5,1162.5 L936.5,1149.5 L939.5,1162.5 L942.5,1149.5" stroke-width="1"/>
<path d="M1045.5,1149.5 L1048.5,1162.5 L1050.5,1149.5 L1053.5,1162.5 L1056.5,1149.5 L1059.5,1162.5 L1061.5,1149.5 L1064.5,1162.5 L1067.5,1149.5" stroke-width="1"/>
<ellipse cx="912.9" cy="1154.2" rx="1.6" ry="2.7" stroke-width="1"/>
<ellipse cx="1074.6" cy="1154.2" rx="1.6" ry="2.7" stroke-width="1"/>
<line x1="1488.5" y1="558.5" x2="1488.5" y2="822.5"/>
<line x1="1490.5" y1="558.5" x2="1490.5" y2="822.5"/>
<line x1="1487.5" y1="559.5" x2="1497.5" y2="559.5" stroke-width="1.8"/>
<line x1="1487.5" y1="821.5" x2="1497.5" y2="821.5" stroke-width="1.8"/>
<path d="M1496.5,561.5 L1483.5,566.5 L1496.5,571.5 L1483.5,576.5 L1496.5,581.5 L1483.5,586.5 L1496.5,591.5 L1483.5,596.5 L1496.5,601.5" stroke-width="1"/>
<path d="M1496.5,779.5 L1483.5,784.5 L1496.5,789.5 L1483.5,794.5 L1496.5,799.5 L1483.5,804.5 L1496.5,809.5 L1483.5,814.5 L1496.5,820.5" stroke-width="1"/>
<ellipse cx="1489.7" cy="550.3" rx="2.7" ry="1.6" stroke-width="1"/>
<ellipse cx="1489.7" cy="830.6" rx="2.7" ry="1.6" stroke-width="1"/>
<path d="M1027.5,1031.5 L1035.5,1023.5 L1083.5,1072.5 L1009.5,1144.5 L961.5,1096.5 L969.5,1089.5 L972.5,1091.5"/>
<path d="M1027.5,1031.5 L1029.5,1034.5 L1035.5,1028.5 L1078.5,1072.5 L1009.5,1140.5 L966.5,1097.5 L972.5,1091.5"/>
<line x1="972.5" y1="1091.5" x2="1029.5" y2="1034.5"/>
<line x1="1024.5" y1="1039.5" x2="1068.5" y2="1082.5"/>
<line x1="977.5" y1="1086.5" x2="1020.5" y2="1130.5"/>
<line x1="1060.5" y1="1075.5" x2="1014.5" y2="1122.5"/>
<g transform="translate(487.0,0)" stroke-width="1" stroke-linejoin="round" shape-rendering="crispEdges">
<path d="M-38.0,501.7 C-35.9,501.0 -29.4,498.4 -25.4,497.3 C-21.4,496.2 -17.3,495.8 -13.8,495.3 C-10.3,494.8 -7.7,494.5 -4.6,494.3 C-1.5,494.1 1.5,494.1 4.6,494.3 C7.7,494.5 10.3,494.8 13.8,495.3 C17.3,495.8 21.4,496.2 25.4,497.3 C29.4,498.4 35.9,501.0 38.0,501.7 L41.2,509.3 C39.6,508.9 35.2,507.8 31.4,507.1 C27.6,506.4 22.1,505.6 18.5,505.0 C15.0,504.4 14.9,504.0 10.1,503.8 C5.3,503.6 -5.3,503.6 -10.1,503.8 C-14.9,504.0 -15.0,504.4 -18.5,505.0 C-22.1,505.6 -27.6,506.4 -31.4,507.1 C-35.2,507.8 -39.6,508.9 -41.2,509.3 Z" fill="#000"/>
<path d="M-46.1,504.6 L-44.7,512.6 C-42.2,512.2 -35.0,510.9 -30.0,510.2 C-25.1,509.5 -20.0,508.9 -15.0,508.6 C-10.0,508.3 -5.0,508.5 0.0,508.5 C5.0,508.5 10.0,508.3 15.0,508.6 C20.0,508.9 25.1,509.5 30.0,510.2 C35.0,510.9 42.2,512.2 44.7,512.6 L46.1,504.6"/>
<path d="M-76.0,647.0 C-71.7,645.5 -59.0,640.3 -50.0,638.0 C-41.0,635.7 -30.3,634.0 -22.0,633.0 C-13.7,632.0 -7.3,632.1 0.0,632.1 C7.3,632.1 13.7,632.0 22.0,633.0 C30.3,634.0 41.0,635.7 50.0,638.0 C59.0,640.3 71.7,645.5 76.0,647.0"/>
<path d="M0,0"/>
<path d="M-61.6,725.0 C-57.2,723.8 -45.3,719.4 -35.0,717.6 C-24.7,715.8 -11.7,714.3 0.0,714.3 C11.7,714.3 24.7,715.8 35.0,717.6 C45.3,719.4 57.2,723.8 61.6,725.0"/>
<path d="M-60.5,865.2 C-56.2,866.3 -45.1,870.2 -35.0,871.8 C-24.9,873.3 -11.7,874.5 0.0,874.5 C11.7,874.5 24.9,873.3 35.0,871.8 C45.1,870.2 56.2,866.3 60.5,865.2"/>
<g><path d="M0.0,491.3 C1.7,491.3 6.7,491.3 10.0,491.5 C13.3,491.7 15.0,491.5 20.0,492.3 C25.0,493.1 32.8,494.0 40.2,496.3 C47.7,498.6 58.2,502.6 64.7,506.1 C71.2,509.6 75.6,513.4 79.4,517.4 C83.2,521.4 85.2,526.0 87.3,530.1 C89.4,534.2 90.9,538.3 92.2,541.9 C93.5,545.5 94.4,547.7 95.0,551.7 C95.6,555.7 95.8,559.8 95.9,565.7 C96.1,571.6 96.1,578.1 95.9,587.0 C95.7,595.9 95.2,608.5 94.8,619.0 C94.4,629.5 94.0,636.5 93.8,650.0 C93.6,663.5 93.4,678.3 93.5,700.0 C93.6,721.7 94.2,756.0 94.3,780.0 C94.4,804.0 94.1,830.3 94.3,844.0 C94.5,857.7 95.2,852.7 95.4,862.0 C95.6,871.3 95.5,888.8 95.4,900.0 C95.3,911.2 96.2,919.7 94.8,929.0 C93.4,938.3 88.7,948.0 86.8,955.7 C84.9,963.4 84.5,969.1 83.6,975.0 C82.7,980.9 83.0,986.7 81.4,991.0 C79.8,995.3 78.5,998.0 74.0,1000.7 C69.5,1003.4 62.6,1005.2 54.6,1007.0 C46.6,1008.8 34.8,1010.8 25.7,1011.6 C16.6,1012.4 4.3,1011.8 0.0,1011.8"/><path d="M46.1,504.6 C50.0,505.8 64.0,509.0 69.6,511.5 C75.1,514.0 76.8,516.9 79.4,519.8 C82.0,522.7 83.7,526.1 85.3,529.1 C86.9,532.1 87.9,534.8 89.2,537.9 C90.5,541.0 92.1,544.7 93.1,547.7 C94.1,550.7 94.7,554.6 95.0,556.0"/><path d="M46.1,504.6 C49.2,508.0 59.8,520.3 64.7,525.2 C69.6,530.1 71.8,529.6 75.5,534.0 C79.2,538.4 84.9,548.8 86.8,551.7 L88.2,551.7 L88.4,536"/><path d="M47.0,506.8 C48.3,509.5 51.9,513.1 54.6,522.9 C57.3,532.7 60.3,550.5 63.2,565.7 C66.1,580.9 69.7,600.4 71.8,613.9 C73.9,627.4 75.3,641.5 76.0,647.0"/><path d="M75.5,534.6 C75.9,538.0 77.1,546.3 77.7,555.0 C78.3,563.7 78.8,574.5 79.3,587.0 C79.8,599.5 80.1,619.3 80.4,630.0 C80.8,640.7 81.2,647.5 81.4,651.0"/><path d="M17.6,607.3 H24.5 C38,608.2 50,610.5 57.5,613.5 C61,615.5 63,622 64.5,629 V631 H61 C48,627.5 32,624.5 19.5,623.6 C17,623.2 16.1,622 16.1,620.5 V609 C16.1,608 16.8,607.4 17.6,607.3 Z"/><path d="M18.6,608.8 H24.5 C38,609.7 49,611.8 56.5,614.8 C59.8,616.6 61.6,622.5 62.8,629.2 C49,625.8 32,622.9 19.8,622.1 C18.2,621.9 17.6,621.2 17.6,620 V610 C17.6,609.3 18,608.9 18.6,608.8 Z" stroke-width="1" fill="#000"/><path d="M0.0,645.2 C2.5,645.2 8.3,645.1 15.0,645.5 C21.7,645.9 32.2,646.6 40.0,647.3 C47.8,648.0 55.4,648.9 62.0,649.6 C68.6,650.3 76.8,651.0 79.8,651.3"/><path d="M0.0,645.7 C4.2,646.0 16.7,646.5 25.0,647.6 C33.3,648.7 41.8,650.7 50.0,652.5 C58.2,654.3 70.0,657.2 74.0,658.2"/><path d="M81.4,651.0 L76.0,647.0"/><path d="M74,658.2 C75.5,659 75.8,660 75.4,662 L64.8,709 C63.8,714.5 61,718 56.8,717.6 C53.2,716.9 42.7,714.6 35.0,713.4 C27.3,712.2 14.8,711.0 10.7,710.5 C8.5,710 8,707 7.5,704 C7,700.5 6.5,699.3 4.5,699.3 H0"/><path d="M81.4,651.0 L73.4,684.3 L64.3,716.4 L61.6,725.0"/><path d="M85.7,659.6 C84.6,663.7 81.9,674.8 79.3,684.3 C76.7,693.8 72.5,708.4 70.2,716.4 C67.9,724.4 66.4,726.2 65.4,732.5 C64.4,738.8 64.4,744.4 64.3,754.0 C64.2,763.6 64.4,778.5 64.6,790.0 C64.8,801.5 64.3,812.2 65.4,823.0 C66.5,833.8 68.2,844.2 71.0,855.0 C73.8,865.8 80.6,882.5 82.5,888.0" stroke-width="1.6"/><path d="M53.0,722.8 C52.5,729.0 50.7,748.8 50.0,760.0 C49.3,771.2 48.7,778.3 48.6,790.0 C48.5,801.7 48.8,817.2 49.5,830.0 C50.2,842.8 52.4,860.7 53.0,866.8"/><path d="M61.6,725.0 C60.9,729.5 58.4,741.2 57.5,752.0 C56.6,762.8 56.2,777.0 56.3,790.0 C56.4,803.0 57.2,817.4 58.0,830.0 C58.8,842.6 59.8,854.0 61.0,865.7 C62.2,877.4 64.0,888.6 65.5,900.0 C67.0,911.4 69.4,928.6 70.2,934.3"/><path d="M0,881.3 C4.2,881.0 16.5,880.8 25.0,879.8 C33.5,878.8 46.7,876.0 51.0,875.2 C53.5,875 54.5,876 55,878 L63.6,929 C64,932 63,933.5 61,934.3 L21.4,945.5 H0"/><path d="M70.2,934.8 C66.0,936.3 53.5,941.4 45.0,944.0 C36.5,946.6 23.6,949.3 19.3,950.4 H0"/><path d="M70.2,935.4 C71.0,936.3 74.0,937.7 75.0,940.7 C76.0,943.7 76.5,947.6 76.0,953.6 C75.5,959.6 73.6,971.1 71.8,977.0 C70.0,982.9 69.9,985.8 65.4,989.0 C60.9,992.2 52.3,994.4 45.0,996.5 C37.7,998.6 28.9,1000.6 21.4,1001.8 C13.9,1002.9 3.6,1003.1 0.0,1003.4"/><path d="M82.8,975.0 C82.4,977.2 82.1,984.4 80.5,988.0 C78.9,991.6 77.4,994.0 73.0,996.5 C68.6,999.0 62.0,1001.0 54.0,1002.8 C46.0,1004.6 34.0,1006.4 25.0,1007.2 C16.0,1008.0 4.2,1007.4 0.0,1007.4"/><path d="M82.5,968.6 C82.3,971.2 82.6,979.8 81.2,984.0 C79.8,988.2 77.5,991.4 74.0,994.0 C70.5,996.6 64.1,998.0 60.0,999.5 C55.9,1001.0 51.1,1002.3 49.3,1002.9" stroke-width="1.6"/><path d="M81.0,975.0 C80.5,977.2 79.8,984.8 78.0,988.0 C76.2,991.2 73.3,992.8 70.0,994.5 C66.7,996.2 60.0,997.8 58.0,998.5" stroke-width="1.3"/><path d="M79.0,980.0 C78.3,981.4 76.8,986.4 75.0,988.5 C73.2,990.6 70.5,991.3 68.0,992.5 C65.5,993.7 61.3,995.0 60.0,995.5" stroke-width="1.0"/><path d="M82.5,968.6 L71.8,977.0"/><path d="M82.5,968.6 L83.3,976.0" stroke-width="2"/><path d="M86.5,683.0 L86.3,844.0" stroke-width="1.6"/><path d="M86.3,844.0 C86.2,848.0 86.0,860.8 85.5,868.0 C85.0,875.2 83.9,883.8 83.6,887.0" stroke-width="1.2"/><path d="M93.8,650.0 L87.3,655.4 L86.8,673.6"/><path d="M86.0,679.0 C86.5,678.5 87.8,676.5 89.0,675.8 C90.2,675.1 91.3,674.5 93.0,674.6 C94.7,674.7 97.2,675.5 99.0,676.5 C100.8,677.5 102.0,678.8 103.5,680.5 C105.0,682.2 107.2,685.6 108.0,687.0 C108.8,688.4 108.2,688.7 108.2,689.0 L93,684.3 L85,682"/><path d="M65.9,845.0 L82.0,843.0"/><path d="M66.5,847.2 L82.0,845.4"/><path d="M65.4,772.0 L86.3,764.0"/><path d="M65.4,778.5 L93.2,770.0"/><path d="M65.4,785.0 L86.8,780.7"/><path d="M94.3,880.0 C93.9,881.0 93.8,884.4 92.0,886.0 C90.2,887.6 85.0,888.9 83.6,889.5"/><path d="M83.6,890.0 C83.1,895.0 81.8,910.7 80.5,920.0 C79.2,929.3 76.8,941.7 76.0,946.0"/><path d="M88.5,944.0 L83.8,975.0"/><path d="M91,740 C92.6,745 92.9,758 92,764.5 C91,760 90.6,748 91,740 Z" stroke-width="1"/><path d="M90.5,848 C92.5,852 91.5,868 88.5,873 C86.5,870 87.5,853 90.5,848 Z" stroke-width="1"/></g>
<g transform="scale(-1,1)"><path d="M0.0,491.3 C1.7,491.3 6.7,491.3 10.0,491.5 C13.3,491.7 15.0,491.5 20.0,492.3 C25.0,493.1 32.8,494.0 40.2,496.3 C47.7,498.6 58.2,502.6 64.7,506.1 C71.2,509.6 75.6,513.4 79.4,517.4 C83.2,521.4 85.2,526.0 87.3,530.1 C89.4,534.2 90.9,538.3 92.2,541.9 C93.5,545.5 94.4,547.7 95.0,551.7 C95.6,555.7 95.8,559.8 95.9,565.7 C96.1,571.6 96.1,578.1 95.9,587.0 C95.7,595.9 95.2,608.5 94.8,619.0 C94.4,629.5 94.0,636.5 93.8,650.0 C93.6,663.5 93.4,678.3 93.5,700.0 C93.6,721.7 94.2,756.0 94.3,780.0 C94.4,804.0 94.1,830.3 94.3,844.0 C94.5,857.7 95.2,852.7 95.4,862.0 C95.6,871.3 95.5,888.8 95.4,900.0 C95.3,911.2 96.2,919.7 94.8,929.0 C93.4,938.3 88.7,948.0 86.8,955.7 C84.9,963.4 84.5,969.1 83.6,975.0 C82.7,980.9 83.0,986.7 81.4,991.0 C79.8,995.3 78.5,998.0 74.0,1000.7 C69.5,1003.4 62.6,1005.2 54.6,1007.0 C46.6,1008.8 34.8,1010.8 25.7,1011.6 C16.6,1012.4 4.3,1011.8 0.0,1011.8"/><path d="M46.1,504.6 C50.0,505.8 64.0,509.0 69.6,511.5 C75.1,514.0 76.8,516.9 79.4,519.8 C82.0,522.7 83.7,526.1 85.3,529.1 C86.9,532.1 87.9,534.8 89.2,537.9 C90.5,541.0 92.1,544.7 93.1,547.7 C94.1,550.7 94.7,554.6 95.0,556.0"/><path d="M46.1,504.6 C49.2,508.0 59.8,520.3 64.7,525.2 C69.6,530.1 71.8,529.6 75.5,534.0 C79.2,538.4 84.9,548.8 86.8,551.7 L88.2,551.7 L88.4,536"/><path d="M47.0,506.8 C48.3,509.5 51.9,513.1 54.6,522.9 C57.3,532.7 60.3,550.5 63.2,565.7 C66.1,580.9 69.7,600.4 71.8,613.9 C73.9,627.4 75.3,641.5 76.0,647.0"/><path d="M75.5,534.6 C75.9,538.0 77.1,546.3 77.7,555.0 C78.3,563.7 78.8,574.5 79.3,587.0 C79.8,599.5 80.1,619.3 80.4,630.0 C80.8,640.7 81.2,647.5 81.4,651.0"/><path d="M17.6,607.3 H24.5 C38,608.2 50,610.5 57.5,613.5 C61,615.5 63,622 64.5,629 V631 H61 C48,627.5 32,624.5 19.5,623.6 C17,623.2 16.1,622 16.1,620.5 V609 C16.1,608 16.8,607.4 17.6,607.3 Z"/><path d="M18.6,608.8 H24.5 C38,609.7 49,611.8 56.5,614.8 C59.8,616.6 61.6,622.5 62.8,629.2 C49,625.8 32,622.9 19.8,622.1 C18.2,621.9 17.6,621.2 17.6,620 V610 C17.6,609.3 18,608.9 18.6,608.8 Z" stroke-width="1" fill="#000"/><path d="M0.0,645.2 C2.5,645.2 8.3,645.1 15.0,645.5 C21.7,645.9 32.2,646.6 40.0,647.3 C47.8,648.0 55.4,648.9 62.0,649.6 C68.6,650.3 76.8,651.0 79.8,651.3"/><path d="M0.0,645.7 C4.2,646.0 16.7,646.5 25.0,647.6 C33.3,648.7 41.8,650.7 50.0,652.5 C58.2,654.3 70.0,657.2 74.0,658.2"/><path d="M81.4,651.0 L76.0,647.0"/><path d="M74,658.2 C75.5,659 75.8,660 75.4,662 L64.8,709 C63.8,714.5 61,718 56.8,717.6 C53.2,716.9 42.7,714.6 35.0,713.4 C27.3,712.2 14.8,711.0 10.7,710.5 C8.5,710 8,707 7.5,704 C7,700.5 6.5,699.3 4.5,699.3 H0"/><path d="M81.4,651.0 L73.4,684.3 L64.3,716.4 L61.6,725.0"/><path d="M85.7,659.6 C84.6,663.7 81.9,674.8 79.3,684.3 C76.7,693.8 72.5,708.4 70.2,716.4 C67.9,724.4 66.4,726.2 65.4,732.5 C64.4,738.8 64.4,744.4 64.3,754.0 C64.2,763.6 64.4,778.5 64.6,790.0 C64.8,801.5 64.3,812.2 65.4,823.0 C66.5,833.8 68.2,844.2 71.0,855.0 C73.8,865.8 80.6,882.5 82.5,888.0" stroke-width="1.6"/><path d="M53.0,722.8 C52.5,729.0 50.7,748.8 50.0,760.0 C49.3,771.2 48.7,778.3 48.6,790.0 C48.5,801.7 48.8,817.2 49.5,830.0 C50.2,842.8 52.4,860.7 53.0,866.8"/><path d="M61.6,725.0 C60.9,729.5 58.4,741.2 57.5,752.0 C56.6,762.8 56.2,777.0 56.3,790.0 C56.4,803.0 57.2,817.4 58.0,830.0 C58.8,842.6 59.8,854.0 61.0,865.7 C62.2,877.4 64.0,888.6 65.5,900.0 C67.0,911.4 69.4,928.6 70.2,934.3"/><path d="M0,881.3 C4.2,881.0 16.5,880.8 25.0,879.8 C33.5,878.8 46.7,876.0 51.0,875.2 C53.5,875 54.5,876 55,878 L63.6,929 C64,932 63,933.5 61,934.3 L21.4,945.5 H0"/><path d="M70.2,934.8 C66.0,936.3 53.5,941.4 45.0,944.0 C36.5,946.6 23.6,949.3 19.3,950.4 H0"/><path d="M70.2,935.4 C71.0,936.3 74.0,937.7 75.0,940.7 C76.0,943.7 76.5,947.6 76.0,953.6 C75.5,959.6 73.6,971.1 71.8,977.0 C70.0,982.9 69.9,985.8 65.4,989.0 C60.9,992.2 52.3,994.4 45.0,996.5 C37.7,998.6 28.9,1000.6 21.4,1001.8 C13.9,1002.9 3.6,1003.1 0.0,1003.4"/><path d="M82.8,975.0 C82.4,977.2 82.1,984.4 80.5,988.0 C78.9,991.6 77.4,994.0 73.0,996.5 C68.6,999.0 62.0,1001.0 54.0,1002.8 C46.0,1004.6 34.0,1006.4 25.0,1007.2 C16.0,1008.0 4.2,1007.4 0.0,1007.4"/><path d="M82.5,968.6 C82.3,971.2 82.6,979.8 81.2,984.0 C79.8,988.2 77.5,991.4 74.0,994.0 C70.5,996.6 64.1,998.0 60.0,999.5 C55.9,1001.0 51.1,1002.3 49.3,1002.9" stroke-width="1.6"/><path d="M81.0,975.0 C80.5,977.2 79.8,984.8 78.0,988.0 C76.2,991.2 73.3,992.8 70.0,994.5 C66.7,996.2 60.0,997.8 58.0,998.5" stroke-width="1.3"/><path d="M79.0,980.0 C78.3,981.4 76.8,986.4 75.0,988.5 C73.2,990.6 70.5,991.3 68.0,992.5 C65.5,993.7 61.3,995.0 60.0,995.5" stroke-width="1.0"/><path d="M82.5,968.6 L71.8,977.0"/><path d="M82.5,968.6 L83.3,976.0" stroke-width="2"/><path d="M86.5,683.0 L86.3,844.0" stroke-width="1.6"/><path d="M86.3,844.0 C86.2,848.0 86.0,860.8 85.5,868.0 C85.0,875.2 83.9,883.8 83.6,887.0" stroke-width="1.2"/><path d="M93.8,650.0 L87.3,655.4 L86.8,673.6"/><path d="M86.0,679.0 C86.5,678.5 87.8,676.5 89.0,675.8 C90.2,675.1 91.3,674.5 93.0,674.6 C94.7,674.7 97.2,675.5 99.0,676.5 C100.8,677.5 102.0,678.8 103.5,680.5 C105.0,682.2 107.2,685.6 108.0,687.0 C108.8,688.4 108.2,688.7 108.2,689.0 L93,684.3 L85,682"/><path d="M65.9,845.0 L82.0,843.0"/><path d="M66.5,847.2 L82.0,845.4"/><path d="M65.4,772.0 L86.3,764.0"/><path d="M65.4,778.5 L93.2,770.0"/><path d="M65.4,785.0 L86.8,780.7"/><path d="M94.3,880.0 C93.9,881.0 93.8,884.4 92.0,886.0 C90.2,887.6 85.0,888.9 83.6,889.5"/><path d="M83.6,890.0 C83.1,895.0 81.8,910.7 80.5,920.0 C79.2,929.3 76.8,941.7 76.0,946.0"/><path d="M88.5,944.0 L83.8,975.0"/><path d="M91,740 C92.6,745 92.9,758 92,764.5 C91,760 90.6,748 91,740 Z" stroke-width="1"/><path d="M90.5,848 C92.5,852 91.5,868 88.5,873 C86.5,870 87.5,853 90.5,848 Z" stroke-width="1"/></g>
<path d="M-16,497.1 Q0,495.9 16,497.1" stroke="#fff" stroke-width="1" stroke-dasharray="3.5 6"/>
<path d="M-30,501.9 Q0,496.7 30,501.9" stroke="#fff" stroke-width="1" stroke-dasharray="2.6 3.4"/>
<path d="M-36,505.7 Q0,497.3 36,505.7" stroke="#fff" stroke-width="1" stroke-dasharray="3.6 2.6"/>
<path d="M-38,508.8 Q0,499.2 38,508.8" stroke="#fff" stroke-width="1" stroke-dasharray="1.2 4.2"/>
</g>
</svg>
</body></html>
